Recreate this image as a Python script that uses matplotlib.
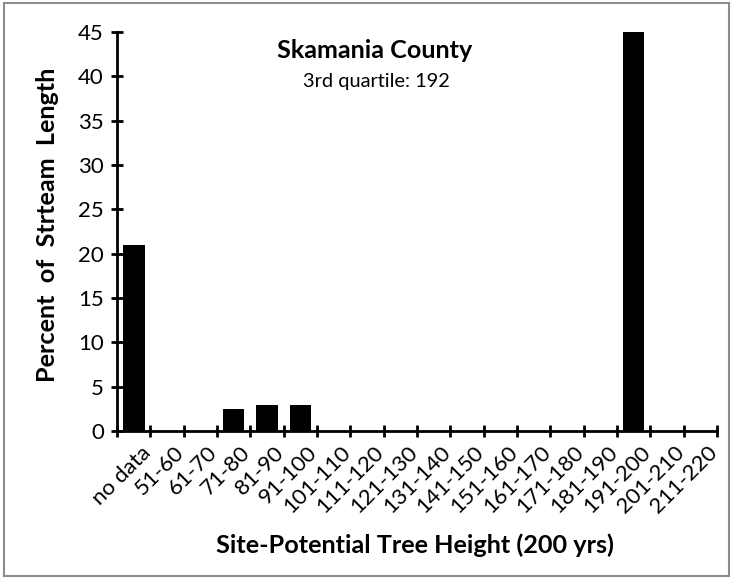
import matplotlib.pyplot as plt
import numpy as np

# height classes and share of stream length in each
classes = ['no data', '51-60', '61-70', '71-80', '81-90', '91-100', '101-110',
           '111-120', '121-130', '131-140', '141-150', '151-160', '161-170',
           '171-180', '181-190', '191-200', '201-210', '211-220']
percent = [21.0, 0, 0, 2.5, 2.9, 2.9, 0, 0, 0, 0, 0, 0, 0, 0, 0, 45.0, 0, 0]

plt.rcParams['font.family'] = ['Lato', 'DejaVu Sans']

W, H = 731, 578
fig = plt.figure(figsize=(W / 100, H / 100), dpi=100)
ax = fig.add_axes([117/W, 1 - 431/H, 600/W, 399/H])

x = np.arange(len(classes))
ax.bar(x + 0.5, percent, width=0.65, color='black')

ax.set_xlim(0, len(classes))
ax.set_ylim(0, 45)
ax.set_yticks(range(0, 50, 5))
ax.set_xticks(range(len(classes) + 1))
ax.set_xticklabels([])
# labels sit between tick marks, rotated
for i, c in enumerate(classes):
    ax.text(i + 0.7, -1.3, c, rotation=45, ha='right', va='top',
            fontsize=16, rotation_mode='anchor')

for s in ['top', 'right']:
    ax.spines[s].set_visible(False)
for s in ['left', 'bottom']:
    ax.spines[s].set_linewidth(2)
ax.tick_params(axis='both', direction='inout', length=9, width=2, labelsize=16)
ax.tick_params(axis='y', pad=5)

title = fig.text(375/W, 1 - 50/H, 'Skamania County', ha='center', va='center',
                 fontsize=16, fontweight='bold')
sub = fig.text(376/W, 1 - 82/H, '3rd quartile: 192', ha='center', va='center',
               fontsize=14)
xlab = fig.text(415/W, 1 - 545/H, 'Site-Potential Tree Height (200 yrs)',
                ha='center', va='center', fontsize=17, fontweight='bold')
ylab = fig.text(48/W, 1 - 225/H, 'Percent  of  Strteam  Length', rotation=90,
                ha='center', va='center', fontsize=17, fontweight='bold')

# scale text so each spans the wanted number of pixels
r = fig.canvas.get_renderer()
for t, span, vertical in [(title, 195, False), (sub, 148, False),
                          (xlab, 400, False), (ylab, 316, True)]:
    bb = t.get_window_extent(r)
    size = bb.height if vertical else bb.width
    t.set_fontsize(t.get_fontsize() * span / size)

# thin gray frame round the figure
fig.patches.append(plt.Rectangle((4/W, 2/H), 1 - 6/W, 1 - 5/H, transform=fig.transFigure,
                                 fill=False, edgecolor='#8c8c8c', linewidth=1.5))

fig.savefig('out.png', dpi=100)
